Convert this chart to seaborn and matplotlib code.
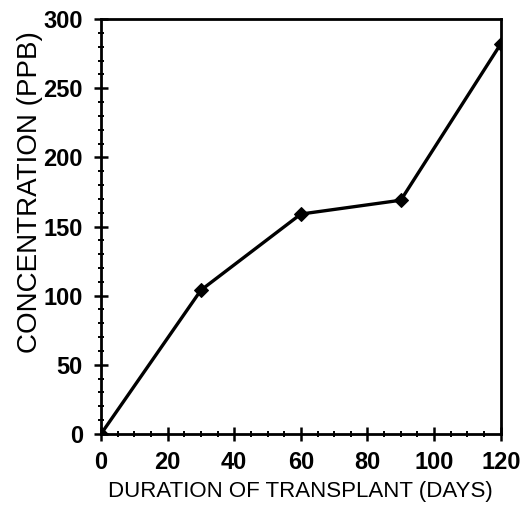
import matplotlib
matplotlib.use("Agg")
import matplotlib.pyplot as plt
from matplotlib.ticker import MultipleLocator
import seaborn as sns
import pandas as pd

days = [0, 30, 60, 90, 120]
concentration_ppb = [0, 104, 159, 169, 282]
x_ticks = [0, 20, 40, 60, 80, 100, 120]
y_ticks = [0, 50, 100, 150, 200, 250, 300]

sns.set_style("ticks")
plt.rcParams["font.family"] = ["Liberation Sans", "DejaVu Sans"]
plt.rcParams["text.color"] = "black"
plt.rcParams["axes.labelcolor"] = "black"

df = pd.DataFrame({"days": days, "ppb": concentration_ppb})

fig = plt.figure(figsize=(5.26, 5.07), dpi=100)
ax = fig.add_axes([0.192, 0.144, 0.76, 0.8185])

sns.lineplot(data=df, x="days", y="ppb", ax=ax, color="black", linewidth=2.4,
             marker="D", markersize=7, markeredgecolor="black", markerfacecolor="black")

ax.set_xlim(0, 120)
ax.set_ylim(0, 300)
ax.set_xticks(x_ticks)
ax.set_yticks(y_ticks)
ax.xaxis.set_minor_locator(MultipleLocator(5))
ax.yaxis.set_minor_locator(MultipleLocator(10))

for s in ax.spines.values():
    s.set_visible(True)
    s.set_linewidth(2.0)
    s.set_color("black")

ax.tick_params(axis="both", which="major", direction="inout", length=10, width=1.8,
               labelsize=17, colors="black")
ax.tick_params(axis="x", which="major", pad=7)
ax.tick_params(axis="y", which="major", pad=8)
ax.tick_params(axis="both", which="minor", direction="inout", length=5, width=1.4, colors="black")
ax.tick_params(axis="x", which="both", top=False)
ax.tick_params(axis="y", which="both", right=False)
for lbl in ax.get_xticklabels() + ax.get_yticklabels():
    lbl.set_fontweight("bold")

ax.set_xlabel("DURATION OF TRANSPLANT (DAYS)", fontsize=16, labelpad=5)
ax.set_ylabel("CONCENTRATION (PPB)", fontsize=20)
ax.yaxis.set_label_coords(-0.146, 0.583)

fig.savefig("out.png", dpi=100, facecolor="white")
